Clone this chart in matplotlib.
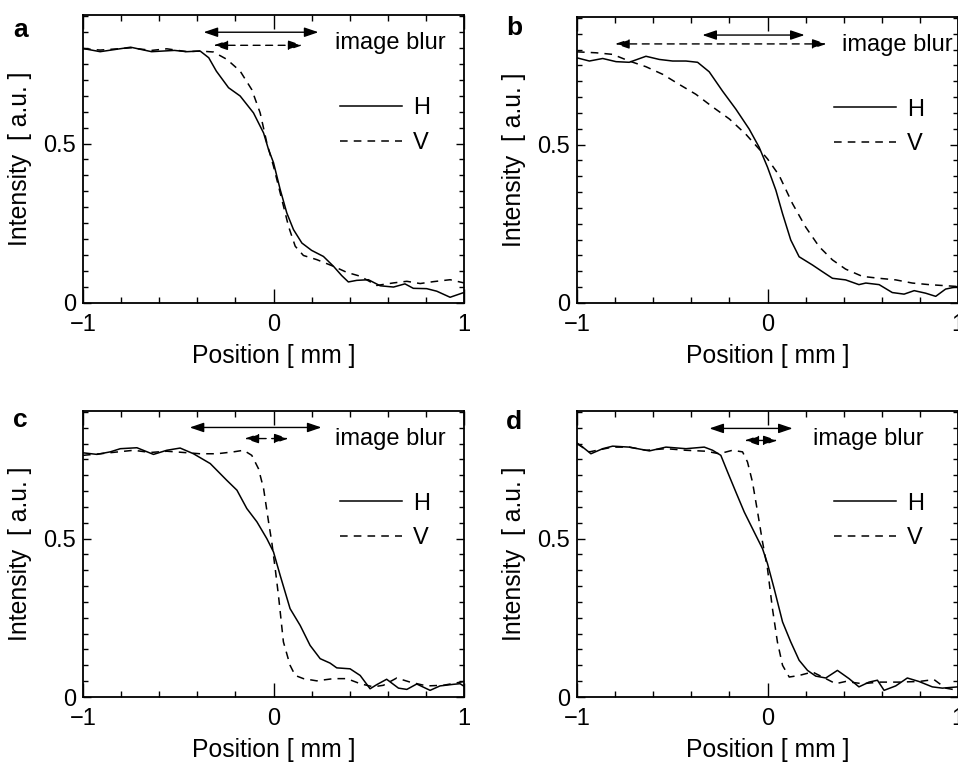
import matplotlib
matplotlib.use("Agg")
import matplotlib.pyplot as plt
from matplotlib.ticker import MultipleLocator, FixedLocator

plt.rcParams['font.family'] = ['Liberation Sans', 'DejaVu Sans']
plt.rcParams['font.size'] = 17

# ---- panel a ----
a_h_x = [-1, -0.91, -0.75, -0.64, -0.52, -0.455, -0.385, -0.34, -0.3, -0.236, -0.175, -0.105, -0.052, -0.026, 0,
         0.035, 0.07, 0.105, 0.149, 0.2, 0.262, 0.315, 0.358, 0.393, 0.437, 0.498, 0.56, 0.63, 0.69, 0.734,
         0.804, 0.857, 0.927, 1]
a_h_y = [0.798, 0.788, 0.802, 0.788, 0.792, 0.788, 0.79, 0.769, 0.727, 0.675, 0.649, 0.596, 0.533, 0.481, 0.44,
         0.356, 0.282, 0.23, 0.188, 0.165, 0.146, 0.115, 0.086, 0.066, 0.071, 0.073, 0.054, 0.05, 0.06, 0.046,
         0.045, 0.037, 0.018, 0.033]
a_v_x = [-1, -0.91, -0.75, -0.64, -0.56, -0.455, -0.385, -0.315, -0.245, -0.175, -0.114, -0.07, -0.035, 0,
         0.044, 0.079, 0.114, 0.157, 0.227, 0.315, 0.385, 0.455, 0.542, 0.63, 0.7, 0.77, 0.84, 0.927, 1]
a_v_y = [0.798, 0.793, 0.8, 0.792, 0.797, 0.788, 0.79, 0.787, 0.764, 0.727, 0.669, 0.596, 0.502, 0.429,
         0.324, 0.24, 0.178, 0.149, 0.136, 0.115, 0.096, 0.084, 0.055, 0.063, 0.068, 0.061, 0.067, 0.073, 0.063]

# ---- panel b ----
b_h_x = [-1, -0.935, -0.865, -0.795, -0.726, -0.638, -0.568, -0.498, -0.428, -0.367, -0.306, -0.236, -0.166,
         -0.096, -0.044, 0, 0.044, 0.079, 0.122, 0.166, 0.236, 0.288, 0.341, 0.41, 0.48, 0.516, 0.586, 0.655,
         0.717, 0.77, 0.83, 0.883, 0.935, 1]
b_h_y = [0.774, 0.764, 0.772, 0.762, 0.76, 0.779, 0.769, 0.764, 0.764, 0.76, 0.73, 0.669, 0.612,
         0.549, 0.492, 0.429, 0.356, 0.282, 0.199, 0.146, 0.12, 0.099, 0.078, 0.073, 0.058, 0.063, 0.058, 0.033,
         0.028, 0.039, 0.031, 0.021, 0.044, 0.052]
b_v_x = [-1, -0.9, -0.813, -0.726, -0.638, -0.55, -0.463, -0.376, -0.288, -0.2, -0.114, -0.044, 0, 0.061,
         0.131, 0.2, 0.271, 0.341, 0.41, 0.498, 0.586, 0.673, 0.76, 0.848, 1]
b_v_y = [0.793, 0.79, 0.785, 0.764, 0.746, 0.722, 0.69, 0.659, 0.619, 0.581, 0.533, 0.486, 0.455, 0.403,
         0.314, 0.24, 0.178, 0.136, 0.107, 0.084, 0.078, 0.073, 0.063, 0.058, 0.052]

# ---- panel c ----
c_h_x = [-1, -0.927, -0.857, -0.804, -0.717, -0.63, -0.56, -0.49, -0.42, -0.332, -0.245, -0.192, -0.14, -0.087,
         -0.035, 0, 0.035, 0.087, 0.14, 0.192, 0.245, 0.297, 0.332, 0.402, 0.455, 0.507, 0.542, 0.594, 0.656,
         0.7, 0.752, 0.822, 0.874, 0.944, 0.979, 1]
c_h_y = [0.771, 0.766, 0.774, 0.784, 0.787, 0.766, 0.779, 0.786, 0.768, 0.737, 0.684, 0.653, 0.595, 0.553,
         0.5, 0.458, 0.384, 0.279, 0.226, 0.163, 0.121, 0.107, 0.092, 0.089, 0.068, 0.026, 0.039, 0.056, 0.028,
         0.024, 0.041, 0.021, 0.035, 0.04, 0.042, 0.034]
c_v_x = [-1, -0.91, -0.734, -0.647, -0.56, -0.472, -0.385, -0.297, -0.21, -0.157, -0.114, -0.079, -0.052,
         -0.026, -0.009, 0.009, 0.026, 0.052, 0.087, 0.114, 0.157, 0.227, 0.315, 0.385, 0.455, 0.524, 0.577,
         0.647, 0.717, 0.804, 0.892, 1]
c_v_y = [0.763, 0.768, 0.779, 0.772, 0.776, 0.772, 0.768, 0.768, 0.774, 0.779, 0.763, 0.721, 0.658,
         0.553, 0.489, 0.405, 0.321, 0.174, 0.1, 0.068, 0.058, 0.051, 0.058, 0.058, 0.042, 0.032, 0.037,
         0.06, 0.047, 0.035, 0.037, 0.049]

# ---- panel d ----
d_h_x = [-1, -0.97, -0.927, -0.865, -0.813, -0.726, -0.62, -0.533, -0.428, -0.332, -0.288, -0.245, -0.21,
         -0.166, -0.122, -0.07, -0.026, 0, 0.035, 0.079, 0.122, 0.166, 0.21, 0.253, 0.306, 0.367, 0.428, 0.48,
         0.533, 0.577, 0.612, 0.673, 0.734, 0.795, 0.865, 0.918, 1]
d_h_y = [0.802, 0.789, 0.768, 0.784, 0.792, 0.789, 0.777, 0.789, 0.784, 0.789, 0.779, 0.763, 0.711,
         0.647, 0.584, 0.521, 0.468, 0.421, 0.342, 0.237, 0.174, 0.116, 0.084, 0.066, 0.06, 0.084, 0.058, 0.032,
         0.047, 0.053, 0.021, 0.035, 0.06, 0.049, 0.032, 0.028, 0.032]
d_v_x = [-1, -0.935, -0.813, -0.726, -0.638, -0.533, -0.428, -0.323, -0.253, -0.184, -0.131, -0.105, -0.079,
         -0.052, -0.026, 0, 0.026, 0.052, 0.079, 0.114, 0.166, 0.236, 0.306, 0.358, 0.41, 0.498, 0.586, 0.69,
         0.795, 0.874, 0.935, 1]
d_v_y = [0.8, 0.774, 0.789, 0.789, 0.779, 0.784, 0.779, 0.776, 0.768, 0.779, 0.774, 0.742, 0.679,
         0.584, 0.489, 0.405, 0.279, 0.174, 0.1, 0.063, 0.068, 0.079, 0.058, 0.042, 0.049, 0.042, 0.047, 0.047,
         0.049, 0.055, 0.028, 0.021]

# image blur arrows: (x_start, x_end, y) for H (solid) and V (dashed)
blur_h = {'a': (-0.367, 0.236, 0.849), 'b': (-0.342, 0.195, 0.846),
          'c': (-0.44, 0.252, 0.851), 'd': (-0.305, 0.132, 0.848)}
blur_v = {'a': (-0.315, 0.152, 0.808), 'b': (-0.8, 0.31, 0.818),
          'c': (-0.152, 0.079, 0.816), 'd': (-0.121, 0.053, 0.81)}
blur_text_x = {'a': 0.325, 'b': 0.39, 'c': 0.325, 'd': 0.237}

panels = {
    'a': (a_h_x, a_h_y, a_v_x, a_v_y),
    'b': (b_h_x, b_h_y, b_v_x, b_v_y),
    'c': (c_h_x, c_h_y, c_v_x, c_v_y),
    'd': (d_h_x, d_h_y, d_v_x, d_v_y),
}

W, H = 958, 764
fig = plt.figure(figsize=(W / 100, H / 100), dpi=100)

# axes boxes in pixels: left, top, right, bottom
boxes = {'a': (83, 15, 464, 303), 'b': (577, 17, 958, 303),
         'c': (83, 411, 464, 697), 'd': (577, 411, 958, 697)}
letter_pos = {'a': (13, 37), 'b': (506, 35), 'c': (13, 427), 'd': (506, 429)}

lw = 1.1
dash = (5, 4)

for key, (hx, hy, vx, vy) in panels.items():
    l, t, r, b = boxes[key]
    ax = fig.add_axes([l / W, 1 - b / H, (r - l) / W, (b - t) / H])
    ax.plot(hx, hy, color='black', lw=lw, label='H')
    ax.plot(vx, vy, color='black', lw=lw, dashes=dash, label='V')
    ax.set_xlim(-1, 1)
    ax.set_ylim(0, 0.903)

    ax.xaxis.set_major_locator(FixedLocator([-1, 0, 1]))
    ax.xaxis.set_minor_locator(MultipleLocator(0.2))
    ax.yaxis.set_major_locator(FixedLocator([0, 0.5]))
    ax.yaxis.set_minor_locator(MultipleLocator(0.05))
    ax.set_xticklabels(['\u22121', '0', '1'])
    ax.set_yticklabels(['0', '0.5'])
    ax.tick_params(axis='both', which='both', direction='in', top=True, right=True, width=1.0)
    ax.tick_params(axis='x', which='major', length=10, pad=8)
    ax.tick_params(axis='x', which='minor', length=4.5)
    ax.tick_params(axis='y', which='major', length=6, pad=5)
    ax.tick_params(axis='y', which='minor', length=3.5)
    for s in ax.spines.values():
        s.set_linewidth(1.3)

    ax.set_xlabel('Position [ mm ]', labelpad=6, fontsize=17.8)
    ax.set_ylabel('Intensity  [ a.u. ]', labelpad=8, fontsize=17.8)

    # blur arrows
    x1, x2, yy = blur_h[key]
    ax.annotate('', xy=(x2, yy), xytext=(x1, yy),
                arrowprops=dict(arrowstyle='<|-|>,head_length=0.5,head_width=0.17',
                                color='black', lw=1.0, shrinkA=0, shrinkB=0))
    x1, x2, yy = blur_v[key]
    ax.annotate('', xy=(x2, yy), xytext=(x1, yy),
                arrowprops=dict(arrowstyle='<|-|>,head_length=0.5,head_width=0.17',
                                color='black', lw=1.0, linestyle=(0, (5, 4)),
                                shrinkA=0, shrinkB=0))
    ax.text(blur_text_x[key], 0.815, 'image blur', fontsize=17, va='center', ha='left')

    ax.legend(loc='upper left', bbox_to_anchor=(0.675, 0.715), frameon=False,
              borderpad=0, borderaxespad=0, handlelength=2.6, handletextpad=0.5,
              labelspacing=0.55, fontsize=17)

    lx, ly = letter_pos[key]
    fig.text(lx / W, 1 - ly / H, key, fontsize=19, fontweight='bold', va='baseline', ha='left')

fig.savefig('out.png', dpi=100)
